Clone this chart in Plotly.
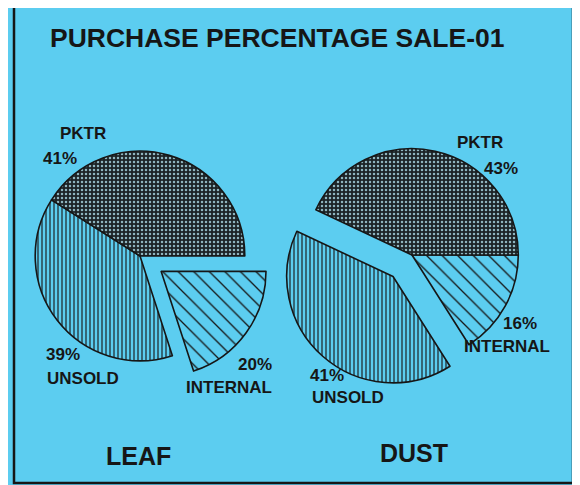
import plotly.graph_objects as go

# ---- data ----
categories = ["PKTR", "UNSOLD", "INTERNAL"]
leaf_values = [41, 39, 20]
dust_values = [43, 41, 16]
pie_names = ["LEAF", "DUST"]
title_text = "PURCHASE PERCENTAGE SALE-01"

W, H = 580, 485
OFF = 8  # page body margin offset
BG = "#5ccdf0"
INK = "#161616"
DARK = "#1c2326"

def px(x):
    return (x - OFF) / W

def py(y):
    return 1 - (y - OFF) / H

# slices drawn clockwise from 3 o'clock: INTERNAL, UNSOLD, PKTR
order = [2, 1, 0]
shapes_by_cat = [".", "|", "\\"]
fg_by_cat = ["#8fb5bf", INK, INK]
bg_by_cat = [DARK, BG, BG]
size_by_cat = [4, 4, 11]
sol_by_cat = [0.3, 0.28, 0.12]

def reorder(lst):
    return [lst[i] for i in order]

pattern = dict(
    shape=reorder(shapes_by_cat),
    fgcolor=reorder(fg_by_cat),
    bgcolor=reorder(bg_by_cat),
    size=reorder(size_by_cat),
    solidity=reorder(sol_by_cat),
    fillmode="replace",
)

leaf_pull = [0, 0, 0.25]
dust_pull = [0, 0.27, 0]

fig = go.Figure()
fig.add_trace(go.Pie(
    labels=reorder(categories), values=reorder(leaf_values), sort=False,
    direction="clockwise", rotation=90,
    pull=reorder(leaf_pull), textinfo="none", hoverinfo="skip",
    marker=dict(colors=reorder(bg_by_cat), pattern=pattern,
                line=dict(color=INK, width=1.6)),
    domain=dict(x=[px(9), px(271)], y=[py(387), py(125)]),
    showlegend=False,
))
fig.add_trace(go.Pie(
    labels=reorder(categories), values=reorder(dust_values), sort=False,
    direction="clockwise", rotation=90,
    pull=reorder(dust_pull), textinfo="none", hoverinfo="skip",
    marker=dict(colors=reorder(bg_by_cat), pattern=pattern,
                line=dict(color=INK, width=1.6)),
    domain=dict(x=[px(277), px(547)], y=[py(390), py(120)]),
    showlegend=False,
))

lab_font = dict(family="Liberation Sans, Arial, sans-serif", size=17, color=INK, weight=700)
annotations = []

def add(text, x, y, size=17, xanchor="left"):
    f = dict(lab_font)
    f["size"] = size
    annotations.append(dict(text=text, x=px(x), y=py(y), xref="paper", yref="paper",
                            showarrow=False, xanchor=xanchor, yanchor="middle", font=f))

# leaf labels
add(categories[0], 58, 134)
add(f"{leaf_values[0]}%", 41, 158)
add(f"{leaf_values[1]}%", 44, 354)
add(categories[1], 45, 378)
add(f"{leaf_values[2]}%", 236, 364)
add(categories[2], 184, 387)
# dust labels
add(categories[0], 455, 142)
add(f"{dust_values[0]}%", 482, 169)
add(f"{dust_values[2]}%", 501, 323)
add(categories[2], 462, 346)
add(f"{dust_values[1]}%", 308, 375)
add(categories[1], 310, 397)
# pie names
add(pie_names[0], 104, 456, size=25)
add(pie_names[1], 378, 453, size=25)
# title
add(title_text, 277, 38, size=26.5, xanchor="center")

fig.update_layout(
    width=W, height=H,
    margin=dict(l=0, r=0, t=0, b=0),
    paper_bgcolor=BG, plot_bgcolor=BG,
    annotations=annotations,
    shapes=[dict(type="rect", xref="paper", yref="paper",
                 x0=px(14), x1=px(573), y0=py(483), y1=py(6),
                 line=dict(color=INK, width=2.5))],
)

fig.write_html("out.html")
